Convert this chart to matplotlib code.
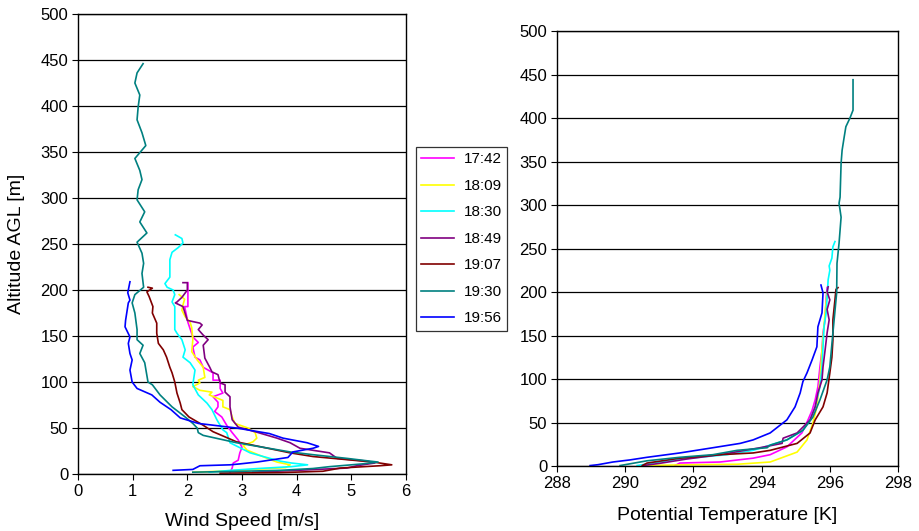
import matplotlib
matplotlib.use("Agg")
import matplotlib.pyplot as plt

plt.rcParams['font.family'] = ['Liberation Sans', 'DejaVu Sans']

# legend labels and colours
times = ['17:42', '18:09', '18:30', '18:49', '19:07', '19:30', '19:56']
colors = ['#ff00ff', '#ffff00', '#00ffff', '#800080', '#800000', '#008080', '#0000ff']

# ---- wind speed profiles (altitude m, speed m/s), top to bottom
ws_alt_1742 = [208, 182, 182, 165, 149, 143, 138, 127, 124, 116, 113, 110, 102, 102, 93, 88, 84, 78, 73, 68, 62, 53, 45, 37, 29, 23, 15, 12, 6.5, 2]
ws_1742 = [2.01, 2.01, 1.95, 2.01, 2.1, 2.2, 2.1, 2.14, 2.23, 2.29, 2.38, 2.47, 2.47, 2.6, 2.6, 2.65, 2.47, 2.56, 2.56, 2.5, 2.63, 2.72, 2.82, 2.93, 3.0, 2.96, 2.93, 2.84, 2.82, 2.78]

ws_alt_1809 = [195, 190, 184, 178, 171, 165, 159, 146, 133, 124, 116, 105, 102, 99, 95, 91, 89, 86, 80, 73, 70, 62, 55, 50, 45, 39, 35, 31, 26, 17, 13, 10, 7, 5, 3, 2]
ws_1809 = [1.85, 1.95, 1.92, 1.9, 1.96, 2.05, 2.08, 2.1, 2.08, 2.18, 2.29, 2.32, 2.2, 2.23, 2.1, 2.23, 2.45, 2.4, 2.65, 2.65, 2.78, 2.82, 2.87, 3.11, 3.24, 3.27, 3.2, 3.02, 3.09, 3.46, 3.64, 3.88, 3.8, 3.2, 2.6, 2.1]

ws_alt_1830 = [260, 256, 251, 246, 241, 233, 214, 207, 203, 200, 195, 187, 182, 157, 153, 146, 135, 127, 121, 113, 97, 86, 77, 70, 59, 48, 45, 34, 23, 17, 14, 12, 10, 8, 6, 4, 2]
ws_1830 = [1.78, 1.9, 1.92, 1.83, 1.72, 1.68, 1.68, 1.59, 1.63, 1.74, 1.77, 1.72, 1.77, 1.77, 1.81, 1.9, 1.96, 1.92, 2.05, 2.14, 2.1, 2.2, 2.36, 2.45, 2.54, 2.65, 2.72, 2.78, 3.15, 3.51, 3.7, 3.9, 4.2, 3.9, 3.3, 2.8, 2.4]

ws_alt_1849 = [208, 208, 200, 192, 187, 186, 182, 167, 164, 162, 157, 151, 146, 140, 126, 116, 111, 108, 99, 97, 89, 84, 73, 59, 51, 46, 39, 34, 28, 23, 17, 14, 12, 9, 6.5, 4, 2]
ws_1849 = [1.92, 2.0, 2.0, 1.9, 1.81, 1.78, 1.92, 2.0, 2.23, 2.27, 2.2, 2.29, 2.38, 2.29, 2.32, 2.41, 2.45, 2.56, 2.6, 2.69, 2.69, 2.78, 2.78, 2.82, 2.93, 3.24, 3.64, 3.88, 4.06, 4.6, 4.74, 5.29, 5.43, 5.1, 4.92, 4.0, 3.2]

ws_alt_1907 = [203, 202, 198, 193, 182, 175, 164, 153, 142, 135, 127, 116, 110, 100, 88, 77, 70, 62, 53, 46, 35, 23, 19, 13, 10, 9, 6.5, 3, 1.5, 1]
ws_1907 = [1.28, 1.36, 1.26, 1.3, 1.37, 1.36, 1.44, 1.44, 1.47, 1.56, 1.62, 1.68, 1.72, 1.77, 1.81, 1.87, 1.9, 2.03, 2.29, 2.47, 2.9, 3.88, 4.3, 5.4, 5.74, 5.52, 4.8, 4.48, 3.7, 2.6]

ws_alt_1930 = [446, 436, 425, 412, 399, 385, 371, 357, 343, 330, 320, 309, 298, 285, 274, 262, 252, 240, 229, 218, 203, 195, 186, 175, 157, 146, 140, 131, 121, 100, 97, 86, 73, 62, 55, 50, 45, 42, 34, 24, 21, 17, 14, 13, 11, 8, 6, 4, 3, 2]
ws_1930 = [1.19, 1.08, 1.04, 1.13, 1.1, 1.08, 1.17, 1.24, 1.04, 1.13, 1.17, 1.1, 1.08, 1.22, 1.13, 1.26, 1.08, 1.17, 1.2, 1.17, 1.2, 1.04, 0.99, 1.04, 1.08, 1.08, 1.19, 1.13, 1.22, 1.28, 1.36, 1.5, 1.72, 1.96, 2.1, 2.18, 2.2, 2.29, 2.9, 3.88, 4.3, 4.92, 5.34, 5.49, 5.2, 4.6, 4.3, 3.7, 3.0, 2.1]

ws_alt_1956 = [209, 197, 189, 186, 167, 160, 149, 142, 131, 124, 113, 100, 93, 86, 78, 70, 61, 55, 50, 44, 39, 34, 30, 28, 24, 18, 13, 11, 10, 9, 5, 4]
ws_1956 = [0.95, 0.91, 0.95, 0.92, 0.87, 0.86, 0.95, 0.92, 0.95, 0.99, 0.95, 0.99, 1.08, 1.35, 1.5, 1.7, 1.87, 2.2, 2.9, 3.5, 3.75, 4.19, 4.4, 4.3, 3.93, 3.84, 3.27, 2.96, 2.78, 2.23, 2.1, 1.74]

# ---- potential temperature profiles (altitude m, theta K)
pt_alt_1742 = [205, 191, 168, 153, 133, 114, 91, 76, 64, 53, 38, 22, 13, 9, 4.6, 3.4, 0.5]
pt_1742 = [295.92, 295.89, 295.86, 295.8, 295.77, 295.71, 295.65, 295.57, 295.48, 295.36, 295.18, 294.74, 294.25, 293.75, 292.78, 291.6, 291.46]

pt_alt_1809 = [200, 176, 133, 99, 68, 49, 30, 16, 4.6, 2, 1.2, 0.5]
pt_1809 = [295.92, 295.86, 295.77, 295.71, 295.62, 295.5, 295.33, 295.04, 294.25, 293.28, 291.5, 290.52]

pt_alt_1830 = [258, 252, 239, 230, 225, 214, 194, 176, 160, 137, 114, 91, 68, 53, 41, 30, 18, 13, 8, 4, 0.5]
pt_1830 = [296.15, 296.09, 296.06, 295.98, 296.0, 295.95, 295.92, 295.89, 295.83, 295.8, 295.77, 295.71, 295.57, 295.42, 295.21, 294.74, 293.75, 292.98, 291.6, 290.9, 290.35]

pt_alt_1849 = [206, 200, 191, 180, 168, 153, 133, 114, 99, 84, 68, 53, 47, 38, 32, 26, 21, 13, 8, 3, 0.5]
pt_1849 = [295.95, 295.92, 296.0, 295.92, 295.98, 295.92, 295.86, 295.8, 295.77, 295.65, 295.57, 295.42, 295.27, 295.04, 294.63, 294.6, 293.95, 292.78, 291.8, 291.0, 290.52]

pt_alt_1907 = [205, 203, 191, 168, 145, 125, 107, 84, 68, 53, 38, 26, 18, 15, 13, 9, 3.4, 0.5]
pt_1907 = [296.24, 296.18, 296.15, 296.09, 296.09, 296.06, 296.0, 295.92, 295.8, 295.57, 295.42, 295.04, 294.25, 293.75, 292.78, 291.6, 290.64, 290.5]

pt_alt_1930 = [444, 409, 400, 390, 378, 363, 348, 309, 302, 286, 256, 233, 199, 153, 114, 99, 76, 56, 41, 30, 24, 21, 18, 13, 10, 6, 0.5]
pt_1930 = [296.68, 296.68, 296.59, 296.47, 296.42, 296.36, 296.33, 296.3, 296.27, 296.33, 296.27, 296.21, 296.2, 296.09, 296.0, 295.92, 295.71, 295.5, 295.21, 294.74, 294.25, 294.16, 293.28, 292.57, 291.6, 290.64, 289.85]

pt_alt_1956 = [208, 199, 176, 160, 137, 122, 107, 97, 84, 68, 53, 38, 30, 26, 21, 15, 10, 7, 4.6, 1.5, 0.5]
pt_1956 = [295.74, 295.8, 295.77, 295.65, 295.62, 295.48, 295.33, 295.21, 295.13, 294.98, 294.74, 294.25, 293.75, 293.37, 292.57, 291.6, 290.64, 290.14, 289.64, 289.2, 288.97]

ws_series = [(ws_1742, ws_alt_1742), (ws_1809, ws_alt_1809), (ws_1830, ws_alt_1830),
             (ws_1849, ws_alt_1849), (ws_1907, ws_alt_1907), (ws_1930, ws_alt_1930),
             (ws_1956, ws_alt_1956)]
pt_series = [(pt_1742, pt_alt_1742), (pt_1809, pt_alt_1809), (pt_1830, pt_alt_1830),
             (pt_1849, pt_alt_1849), (pt_1907, pt_alt_1907), (pt_1930, pt_alt_1930),
             (pt_1956, pt_alt_1956)]

fig = plt.figure(figsize=(9.19, 5.31), dpi=100)
ax1 = fig.add_axes([0.0849, 0.1073, 0.3569, 0.8663])
ax2 = fig.add_axes([0.6061, 0.1224, 0.3711, 0.8192])

for ax in (ax1, ax2):
    ax.set_ylim(0, 500)
    ax.set_yticks(range(0, 501, 50))
    ax.yaxis.grid(True, color='black', linewidth=0.9)
    ax.set_axisbelow(True)
    ax.tick_params(direction='out', length=4, width=0.8, labelsize=12, colors='black', pad=3)
    for s in ax.spines.values():
        s.set_linewidth(1.0)

lines = []
for (x, y), c, t in zip(ws_series, colors, times):
    l, = ax1.plot(x, y, color=c, linewidth=1.2, label=t)
    lines.append(l)
ax1.set_xlim(0, 6)
ax1.set_xticks(range(0, 7))
ax1.set_xlabel('Wind Speed [m/s]', fontsize=14, labelpad=10)
ax1.set_ylabel('Altitude AGL [m]', fontsize=14, labelpad=11)

for (x, y), c in zip(pt_series, colors):
    ax2.plot(x, y, color=c, linewidth=1.2)
ax2.set_xlim(288, 298)
ax2.set_xticks(range(288, 299, 2))
ax2.set_xlabel('Potential Temperature [K]', fontsize=14, labelpad=12)

leg = fig.legend(handles=lines, loc='upper left', bbox_to_anchor=(0.4527, 0.7232),
                 fontsize=11, frameon=True, fancybox=False, edgecolor='black',
                 handlelength=2.15, handletextpad=0.6, labelspacing=0.82,
                 borderpad=0.35, borderaxespad=0)
leg.get_frame().set_linewidth(0.9)

fig.savefig('out.png', dpi=100)
